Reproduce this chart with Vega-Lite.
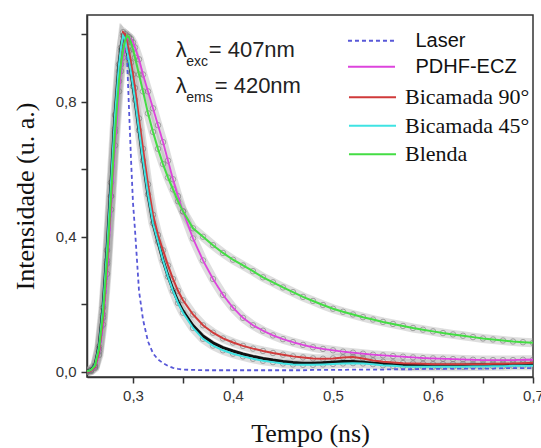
{
  "$schema": "https://vega.github.io/schema/vega-lite/v6.json",
  "width": 446,
  "height": 362,
  "autosize": {"type": "none"},
  "padding": {"left": 87, "top": 15, "right": 8, "bottom": 71},
  "background": "white",
  "config": {
    "view": {"stroke": "#333", "strokeWidth": 1.5},
    "axis": {
      "grid": false,
      "domainColor": "#333",
      "domainWidth": 1.5,
      "tickColor": "#333",
      "tickWidth": 1.5,
      "tickSize": 6,
      "labelFont": "Liberation Sans",
      "labelFontSize": 15,
      "labelColor": "#333",
      "labelPadding": 5,
      "titleFont": "Liberation Serif",
      "titleFontSize": 26,
      "titleFontWeight": "normal",
      "titleColor": "#111"
    }
  },
  "datasets": {
    "curves": [
      {"x":0.254,"Laser":0,"PDHF-ECZ":0,"Bicamada 90°":0,"Bicamada 45°":0.002,"Blenda":0.002,"Preto":0.002},
      {"x":0.258,"Laser":0.003,"PDHF-ECZ":0.003,"Bicamada 90°":0.004,"Bicamada 45°":0.006,"Blenda":0.006,"Preto":0.006},
      {"x":0.262,"Laser":0.012,"PDHF-ECZ":0.012,"Bicamada 90°":0.015,"Bicamada 45°":0.02,"Blenda":0.018,"Preto":0.02},
      {"x":0.266,"Laser":0.05,"PDHF-ECZ":0.05,"Bicamada 90°":0.06,"Bicamada 45°":0.075,"Blenda":0.068,"Preto":0.075},
      {"x":0.270,"Laser":0.14,"PDHF-ECZ":0.14,"Bicamada 90°":0.16,"Bicamada 45°":0.19,"Blenda":0.17,"Preto":0.19},
      {"x":0.274,"Laser":0.29,"PDHF-ECZ":0.29,"Bicamada 90°":0.32,"Bicamada 45°":0.36,"Blenda":0.33,"Preto":0.36},
      {"x":0.278,"Laser":0.49,"PDHF-ECZ":0.48,"Bicamada 90°":0.52,"Bicamada 45°":0.56,"Blenda":0.52,"Preto":0.56},
      {"x":0.282,"Laser":0.69,"PDHF-ECZ":0.67,"Bicamada 90°":0.72,"Bicamada 45°":0.76,"Blenda":0.71,"Preto":0.76},
      {"x":0.286,"Laser":0.87,"PDHF-ECZ":0.83,"Bicamada 90°":0.89,"Bicamada 45°":0.91,"Blenda":0.86,"Preto":0.91},
      {"x":0.288,"Laser":0.94,"PDHF-ECZ":0.89,"Bicamada 90°":0.95,"Bicamada 45°":0.96,"Blenda":0.91,"Preto":0.96},
      {"x":0.290,"Laser":0.985,"PDHF-ECZ":0.93,"Bicamada 90°":1.005,"Bicamada 45°":0.995,"Blenda":0.95,"Preto":0.995},
      {"x":0.292,"Laser":0.995,"PDHF-ECZ":0.96,"Bicamada 90°":1.0,"Bicamada 45°":0.985,"Blenda":0.98,"Preto":0.985},
      {"x":0.294,"Laser":0.93,"PDHF-ECZ":0.98,"Bicamada 90°":0.975,"Bicamada 45°":0.95,"Blenda":0.995,"Preto":0.95},
      {"x":0.296,"Laser":0.78,"PDHF-ECZ":0.99,"Bicamada 90°":0.95,"Bicamada 45°":0.92,"Blenda":0.99,"Preto":0.92},
      {"x":0.298,"Laser":0.63,"PDHF-ECZ":0.985,"Bicamada 90°":0.915,"Bicamada 45°":0.885,"Blenda":0.975,"Preto":0.885},
      {"x":0.300,"Laser":0.5,"PDHF-ECZ":0.975,"Bicamada 90°":0.88,"Bicamada 45°":0.845,"Blenda":0.955,"Preto":0.845},
      {"x":0.302,"Laser":0.42,"PDHF-ECZ":0.96,"Bicamada 90°":0.84,"Bicamada 45°":0.805,"Blenda":0.93,"Preto":0.805},
      {"x":0.306,"Laser":0.24,"PDHF-ECZ":0.925,"Bicamada 90°":0.75,"Bicamada 45°":0.715,"Blenda":0.88,"Preto":0.715},
      {"x":0.310,"Laser":0.155,"PDHF-ECZ":0.88,"Bicamada 90°":0.66,"Bicamada 45°":0.625,"Blenda":0.83,"Preto":0.625},
      {"x":0.315,"Laser":0.09,"PDHF-ECZ":0.83,"Bicamada 90°":0.555,"Bicamada 45°":0.525,"Blenda":0.765,"Preto":0.525},
      {"x":0.320,"Laser":0.055,"PDHF-ECZ":0.78,"Bicamada 90°":0.465,"Bicamada 45°":0.44,"Blenda":0.71,"Preto":0.44},
      {"x":0.325,"Laser":0.037,"PDHF-ECZ":0.73,"Bicamada 90°":0.405,"Bicamada 45°":0.385,"Blenda":0.66,"Preto":0.385},
      {"x":0.330,"Laser":0.026,"PDHF-ECZ":0.68,"Bicamada 90°":0.36,"Bicamada 45°":0.33,"Blenda":0.615,"Preto":0.33},
      {"x":0.335,"Laser":0.018,"PDHF-ECZ":0.625,"Bicamada 90°":0.315,"Bicamada 45°":0.282,"Blenda":0.575,"Preto":0.284},
      {"x":0.340,"Laser":0.012,"PDHF-ECZ":0.57,"Bicamada 90°":0.275,"Bicamada 45°":0.24,"Blenda":0.54,"Preto":0.243},
      {"x":0.345,"Laser":0.009,"PDHF-ECZ":0.52,"Bicamada 90°":0.24,"Bicamada 45°":0.204,"Blenda":0.505,"Preto":0.208},
      {"x":0.350,"Laser":0.007,"PDHF-ECZ":0.475,"Bicamada 90°":0.212,"Bicamada 45°":0.175,"Blenda":0.475,"Preto":0.18},
      {"x":0.36,"Laser":0.006,"PDHF-ECZ":0.395,"Bicamada 90°":0.17,"Bicamada 45°":0.13,"Blenda":0.425,"Preto":0.137},
      {"x":0.37,"Laser":0.005,"PDHF-ECZ":0.33,"Bicamada 90°":0.138,"Bicamada 45°":0.098,"Blenda":0.40,"Preto":0.106},
      {"x":0.38,"Laser":0.005,"PDHF-ECZ":0.275,"Bicamada 90°":0.116,"Bicamada 45°":0.078,"Blenda":0.375,"Preto":0.086},
      {"x":0.39,"Laser":0.005,"PDHF-ECZ":0.228,"Bicamada 90°":0.099,"Bicamada 45°":0.064,"Blenda":0.352,"Preto":0.072},
      {"x":0.40,"Laser":0.005,"PDHF-ECZ":0.19,"Bicamada 90°":0.087,"Bicamada 45°":0.054,"Blenda":0.332,"Preto":0.062},
      {"x":0.41,"Laser":0.005,"PDHF-ECZ":0.16,"Bicamada 90°":0.077,"Bicamada 45°":0.046,"Blenda":0.315,"Preto":0.053},
      {"x":0.42,"Laser":0.005,"PDHF-ECZ":0.138,"Bicamada 90°":0.069,"Bicamada 45°":0.039,"Blenda":0.298,"Preto":0.046},
      {"x":0.43,"Laser":0.005,"PDHF-ECZ":0.122,"Bicamada 90°":0.062,"Bicamada 45°":0.033,"Blenda":0.28,"Preto":0.04},
      {"x":0.44,"Laser":0.005,"PDHF-ECZ":0.108,"Bicamada 90°":0.056,"Bicamada 45°":0.029,"Blenda":0.265,"Preto":0.035},
      {"x":0.45,"Laser":0.005,"PDHF-ECZ":0.097,"Bicamada 90°":0.051,"Bicamada 45°":0.025,"Blenda":0.25,"Preto":0.031},
      {"x":0.46,"Laser":0.005,"PDHF-ECZ":0.088,"Bicamada 90°":0.046,"Bicamada 45°":0.022,"Blenda":0.236,"Preto":0.028},
      {"x":0.47,"Laser":0.005,"PDHF-ECZ":0.08,"Bicamada 90°":0.043,"Bicamada 45°":0.021,"Blenda":0.222,"Preto":0.026},
      {"x":0.48,"Laser":0.006,"PDHF-ECZ":0.073,"Bicamada 90°":0.04,"Bicamada 45°":0.021,"Blenda":0.21,"Preto":0.026},
      {"x":0.49,"Laser":0.006,"PDHF-ECZ":0.068,"Bicamada 90°":0.039,"Bicamada 45°":0.022,"Blenda":0.198,"Preto":0.027},
      {"x":0.50,"Laser":0.006,"PDHF-ECZ":0.064,"Bicamada 90°":0.04,"Bicamada 45°":0.0235,"Blenda":0.187,"Preto":0.029},
      {"x":0.51,"Laser":0.006,"PDHF-ECZ":0.06,"Bicamada 90°":0.043,"Bicamada 45°":0.025,"Blenda":0.178,"Preto":0.031},
      {"x":0.52,"Laser":0.007,"PDHF-ECZ":0.057,"Bicamada 90°":0.044,"Bicamada 45°":0.026,"Blenda":0.17,"Preto":0.031},
      {"x":0.53,"Laser":0.007,"PDHF-ECZ":0.054,"Bicamada 90°":0.04,"Bicamada 45°":0.025,"Blenda":0.162,"Preto":0.029},
      {"x":0.54,"Laser":0.007,"PDHF-ECZ":0.051,"Bicamada 90°":0.034,"Bicamada 45°":0.023,"Blenda":0.155,"Preto":0.026},
      {"x":0.55,"Laser":0.007,"PDHF-ECZ":0.049,"Bicamada 90°":0.03,"Bicamada 45°":0.02,"Blenda":0.148,"Preto":0.024},
      {"x":0.56,"Laser":0.008,"PDHF-ECZ":0.047,"Bicamada 90°":0.028,"Bicamada 45°":0.018,"Blenda":0.142,"Preto":0.022},
      {"x":0.57,"Laser":0.008,"PDHF-ECZ":0.045,"Bicamada 90°":0.026,"Bicamada 45°":0.016,"Blenda":0.136,"Preto":0.021},
      {"x":0.58,"Laser":0.008,"PDHF-ECZ":0.043,"Bicamada 90°":0.025,"Bicamada 45°":0.015,"Blenda":0.13,"Preto":0.02},
      {"x":0.59,"Laser":0.009,"PDHF-ECZ":0.041,"Bicamada 90°":0.024,"Bicamada 45°":0.015,"Blenda":0.125,"Preto":0.02},
      {"x":0.60,"Laser":0.009,"PDHF-ECZ":0.04,"Bicamada 90°":0.023,"Bicamada 45°":0.015,"Blenda":0.12,"Preto":0.02},
      {"x":0.61,"Laser":0.009,"PDHF-ECZ":0.039,"Bicamada 90°":0.023,"Bicamada 45°":0.015,"Blenda":0.115,"Preto":0.02},
      {"x":0.62,"Laser":0.01,"PDHF-ECZ":0.038,"Bicamada 90°":0.023,"Bicamada 45°":0.015,"Blenda":0.111,"Preto":0.02},
      {"x":0.63,"Laser":0.01,"PDHF-ECZ":0.037,"Bicamada 90°":0.023,"Bicamada 45°":0.015,"Blenda":0.107,"Preto":0.02},
      {"x":0.64,"Laser":0.01,"PDHF-ECZ":0.036,"Bicamada 90°":0.023,"Bicamada 45°":0.016,"Blenda":0.103,"Preto":0.021},
      {"x":0.65,"Laser":0.01,"PDHF-ECZ":0.035,"Bicamada 90°":0.023,"Bicamada 45°":0.016,"Blenda":0.099,"Preto":0.021},
      {"x":0.66,"Laser":0.01,"PDHF-ECZ":0.035,"Bicamada 90°":0.024,"Bicamada 45°":0.017,"Blenda":0.096,"Preto":0.021},
      {"x":0.67,"Laser":0.011,"PDHF-ECZ":0.035,"Bicamada 90°":0.024,"Bicamada 45°":0.017,"Blenda":0.093,"Preto":0.022},
      {"x":0.68,"Laser":0.011,"PDHF-ECZ":0.035,"Bicamada 90°":0.025,"Bicamada 45°":0.018,"Blenda":0.09,"Preto":0.022},
      {"x":0.69,"Laser":0.011,"PDHF-ECZ":0.036,"Bicamada 90°":0.026,"Bicamada 45°":0.018,"Blenda":0.088,"Preto":0.022},
      {"x":0.70,"Laser":0.011,"PDHF-ECZ":0.036,"Bicamada 90°":0.027,"Bicamada 45°":0.018,"Blenda":0.086,"Preto":0.022}
    ],
    "ann": [
      {"t":"λ","x":0.3427,"y":0.932,"k":"big"},
      {"t":"= 407nm","x":0.3757,"y":0.932,"k":"big"},
      {"t":"exc","x":0.3532,"y":0.906,"k":"sub"},
      {"t":"λ","x":0.3427,"y":0.825,"k":"big"},
      {"t":"= 420nm","x":0.3817,"y":0.825,"k":"big"},
      {"t":"ems","x":0.3532,"y":0.799,"k":"sub"}
    ]
  },
  "encoding": {
    "x": {
      "field": "x", "type": "quantitative",
      "scale": {"domain": [0.254, 0.7], "nice": false, "zero": false},
      "axis": {
        "values": [0.3, 0.35, 0.4, 0.45, 0.5, 0.55, 0.6, 0.65, 0.7],
        "labelExpr": "abs(datum.value*10 - round(datum.value*10)) < 0.01 ? replace(format(datum.value, '.1f'), '.', ',') : ''",
        "title": "Tempo (ns)",
        "titlePadding": 17,
        "labelFlush": false,
        "labelOverlap": false
      }
    },
    "y": {
      "field": "y", "type": "quantitative",
      "scale": {"domain": [-0.015, 1.056], "nice": false, "zero": false},
      "axis": {
        "values": [0, 0.2, 0.4, 0.6, 0.8, 1.0],
        "labelExpr": "abs(datum.value - 0.4*round(datum.value/0.4)) < 0.01 ? replace(format(datum.value, '.1f'), '.', ',') : ''",
        "title": "Intensidade (u. a.)",
        "titlePadding": 17,
        "labelFlush": false,
        "labelOverlap": false
      }
    }
  },
  "layer": [
    {
      "data": {"name": "curves"},
      "transform": [
        {"fold": ["Laser", "PDHF-ECZ", "Bicamada 90°", "Bicamada 45°", "Blenda", "Preto"], "as": ["series", "y"]},
        {"filter": {"field": "series", "oneOf": ["PDHF-ECZ", "Bicamada 90°", "Bicamada 45°", "Blenda"]}}
      ],
      "mark": {"type": "line", "color": "#9a9a9a", "strokeWidth": 9, "opacity": 0.33, "clip": true},
      "encoding": {"detail": {"field": "series"}}
    },
    {
      "data": {"name": "curves"},
      "transform": [
        {"fold": ["Laser", "PDHF-ECZ", "Bicamada 90°", "Bicamada 45°", "Blenda", "Preto"], "as": ["series", "y"]},
        {"filter": {"field": "series", "oneOf": ["PDHF-ECZ", "Bicamada 90°", "Bicamada 45°", "Blenda"]}}
      ],
      "mark": {"type": "point", "shape": "circle", "filled": false, "color": "#777", "size": 30, "strokeWidth": 1, "opacity": 0.6, "clip": true},
      "encoding": {"detail": {"field": "series"}}
    },
    {
      "data": {"name": "curves"},
      "transform": [
        {"fold": ["Preto"], "as": ["series", "y"]}
      ],
      "mark": {"type": "line", "color": "#111", "strokeWidth": 3, "clip": true},
      "encoding": {}
    },
    {
      "data": {"name": "curves"},
      "transform": [
        {"fold": ["Laser", "PDHF-ECZ"], "as": ["series", "y"]}
      ],
      "mark": {"type": "line", "strokeWidth": 1.8, "clip": true},
      "encoding": {
        "color": {
          "field": "series", "type": "nominal",
          "scale": {"domain": ["Laser", "PDHF-ECZ"], "range": ["#5858d8", "#dd44dd"]},
          "legend": {
            "title": null, "orient": "none", "legendX": 274.5, "legendY": 15.7,
            "symbolType": "M-3.36,0H3.36", "symbolSize": 196, "symbolStrokeWidth": 2,
            "labelFont": "Liberation Sans", "labelFontSize": 20, "labelColor": "#111",
            "labelOffset": 34, "rowPadding": 6, "padding": 0
          }
        },
        "strokeDash": {
          "field": "series", "type": "nominal",
          "scale": {"domain": ["Laser", "PDHF-ECZ"], "range": [[4, 3], [1, 0]]},
          "legend": {
            "title": null, "orient": "none", "legendX": 274.5, "legendY": 15.7,
            "symbolType": "M-3.36,0H3.36", "symbolSize": 196, "symbolStrokeWidth": 2,
            "labelFont": "Liberation Sans", "labelFontSize": 20, "labelColor": "#111",
            "labelOffset": 34, "rowPadding": 6, "padding": 0
          }
        }
      }
    },
    {
      "data": {"name": "curves"},
      "transform": [
        {"fold": ["Bicamada 90°", "Bicamada 45°", "Blenda"], "as": ["series", "y"]}
      ],
      "mark": {"type": "line", "strokeWidth": 2, "clip": true},
      "encoding": {
        "stroke": {
          "field": "series", "type": "nominal",
          "scale": {"domain": ["Bicamada 90°", "Bicamada 45°", "Blenda"], "range": ["#d03a3a", "#3fe3e3", "#44dd44"]},
          "legend": {
            "title": null, "orient": "none", "legendX": 274.5, "legendY": 71.3,
            "symbolType": "M-3.36,0H3.36", "symbolSize": 196, "symbolStrokeWidth": 2,
            "labelFont": "Liberation Serif", "labelFontSize": 22, "labelColor": "#111",
            "labelOffset": 21.5, "rowPadding": 6.5, "padding": 0
          }
        }
      }
    },
    {
      "data": {"name": "ann"},
      "transform": [{"filter": "datum.k == 'big'"}],
      "mark": {"type": "text", "align": "left", "baseline": "alphabetic", "font": "Liberation Sans", "fontSize": 22, "color": "#222"},
      "encoding": {"text": {"field": "t"}}
    },
    {
      "data": {"name": "ann"},
      "transform": [{"filter": "datum.k == 'sub'"}],
      "mark": {"type": "text", "align": "left", "baseline": "alphabetic", "font": "Liberation Sans", "fontSize": 14, "color": "#222"},
      "encoding": {"text": {"field": "t"}}
    }
  ]
}
